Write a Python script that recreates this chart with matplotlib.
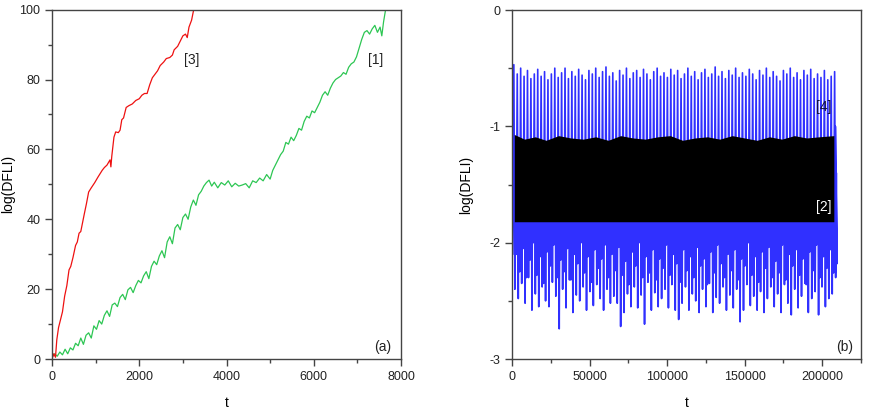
#!/bin/python3
# -*- coding: utf-8 -*-

import numpy as np
import matplotlib
matplotlib.use('Agg')
import matplotlib.pyplot as plt
from matplotlib.ticker import MultipleLocator

plt.rcParams['font.family'] = ['Liberation Sans', 'DejaVu Sans']
plt.rcParams['axes.unicode_minus'] = False

# panel (a): orbit [3] (red) and orbit [1] (green)
t3 = [0, 40, 80, 110, 150, 200, 240, 290, 340, 390, 430, 480, 540, 580, 620,
      660, 700, 740, 790, 840, 900, 980, 1050, 1100, 1150, 1200, 1260, 1330,
      1350, 1370, 1420, 1460, 1520, 1560, 1600, 1640, 1700, 1760, 1840, 1920,
      2000, 2060, 2120, 2180, 2240, 2300, 2360, 2420, 2480, 2560, 2620, 2700,
      2760, 2800, 2880, 2940, 3000, 3060, 3100, 3140, 3200, 3240]
dfli3 = [0, 1.5, 0.5, 5.5, 9, 11.5, 13.5, 18, 21, 25.5, 26.5, 29, 32.5, 33.5,
         36, 36.5, 39, 41.5, 44.5, 47.8, 49, 50.5, 52, 53, 54, 54.8, 55.5, 57,
         55, 58, 63.5, 65, 64.8, 65.5, 68.5, 69, 72, 72.5, 73, 74, 74.5, 75.5,
         76, 76, 78.5, 80.5, 81.5, 82.5, 84, 85, 86, 86.3, 87, 88.5, 89.5, 91,
         92.5, 93, 92, 95, 97, 99.5]

t1 = [0, 60, 120, 180, 240, 300, 360, 420, 480, 540, 600, 660, 720, 780, 840,
      900, 960, 1020, 1080, 1140, 1200, 1260, 1320, 1380, 1440, 1500, 1560,
      1620, 1680, 1740, 1800, 1860, 1920, 1980, 2040, 2100, 2160, 2220, 2280,
      2340, 2400, 2460, 2520, 2580, 2640, 2700, 2760, 2820, 2880, 2940, 3000,
      3060, 3120, 3180, 3240, 3300, 3360, 3420, 3480, 3540, 3600, 3660, 3720,
      3800, 3880, 3960, 4040, 4120, 4200, 4280, 4360, 4440, 4520, 4600, 4680,
      4760, 4840, 4920, 5000, 5060, 5120, 5180, 5240, 5300, 5360, 5420, 5480,
      5540, 5600, 5660, 5720, 5780, 5840, 5900, 5960, 6020, 6080, 6140, 6200,
      6260, 6320, 6380, 6440, 6500, 6560, 6620, 6680, 6740, 6800, 6860, 6920,
      6980, 7040, 7100, 7160, 7220, 7280, 7340, 7400, 7460, 7520, 7560, 7600,
      7640]
dfli1 = [0.5, 1.5, 0.8, 2.0, 1.2, 2.8, 1.5, 3.2, 2.6, 4.5, 3.8, 6.0, 4.2, 6.8,
         7.5, 6.0, 9.5, 8.5, 11.0, 10.0, 12.5, 13.8, 12.2, 15.5, 16.0, 15.0,
         17.6, 18.5, 17.0, 19.8, 20.5, 19.0, 21.0, 22.5, 21.8, 23.8, 25.0, 23.0,
         26.5, 28.0, 27.0, 29.5, 31.0, 29.0, 33.5, 35.0, 33.0, 37.5, 38.5, 37.0,
         40.5, 41.5, 40.0, 43.5, 45.5, 44.0, 47.0, 48.0, 49.5, 50.5, 51.2, 49.5,
         50.6, 49.0, 50.5, 49.8, 51.0, 49.3, 50.3, 49.5, 49.8, 50.2, 49.0, 51.0,
         50.5, 51.8, 51.0, 52.8, 51.5, 54.0, 55.5, 57.0, 58.5, 59.5, 62.0, 61.5,
         63.5, 62.5, 64.0, 66.0, 65.5, 68.0, 69.5, 69.0, 71.0, 70.5, 72.0, 73.5,
         75.5, 76.5, 75.5, 77.5, 79.0, 80.0, 80.5, 81.0, 82.0, 81.5, 83.5, 84.5,
         85.0, 86.5, 89.0, 91.5, 93.5, 94.0, 93.0, 94.5, 95.5, 93.5, 95.0, 92.5,
         96.5, 99.5]

# panel (b): orbit [4] (blue), one upper and two lower spikes per period
spike_t0 = 1200
spike_dt = 2200
peak4 = [-0.47, -0.55, -0.50, -0.57, -0.52, -0.59, -0.55, -0.51, -0.57, -0.53,
         -0.60, -0.55, -0.50, -0.58, -0.54, -0.50, -0.59, -0.53, -0.57, -0.51,
         -0.56, -0.60, -0.52, -0.55, -0.50, -0.58, -0.53, -0.49, -0.57, -0.54,
         -0.61, -0.52, -0.56, -0.50, -0.59, -0.54, -0.52, -0.58, -0.51, -0.55,
         -0.60, -0.53, -0.50, -0.57, -0.54, -0.58, -0.51, -0.56, -0.52, -0.59,
         -0.55, -0.50, -0.57, -0.53, -0.60, -0.54, -0.51, -0.58, -0.55, -0.49,
         -0.57, -0.53, -0.59, -0.52, -0.56, -0.50, -0.58, -0.54, -0.57, -0.51,
         -0.55, -0.60, -0.52, -0.56, -0.50, -0.58, -0.53, -0.57, -0.61, -0.52,
         -0.55, -0.50, -0.58, -0.54, -0.60, -0.52, -0.56, -0.51, -0.59, -0.55,
         -0.58, -0.52, -0.60, -0.57, -0.53]
deep4 = [-2.40, -2.48, -2.35, -2.52, -2.30, -2.58, -2.44, -2.55, -2.38, -2.50,
         -2.55, -2.34, -2.46, -2.74, -2.40, -2.56, -2.32, -2.60, -2.45, -2.50,
         -2.38, -2.58, -2.42, -2.54, -2.36, -2.48, -2.58, -2.40, -2.52, -2.46,
         -2.52, -2.72, -2.60, -2.44, -2.55, -2.38, -2.56, -2.45, -2.70, -2.34,
         -2.58, -2.43, -2.55, -2.48, -2.40, -2.56, -2.36, -2.58, -2.66, -2.52,
         -2.38, -2.58, -2.44, -2.50, -2.60, -2.40, -2.55, -2.35, -2.60, -2.47,
         -2.52, -2.38, -2.58, -2.45, -2.56, -2.40, -2.68, -2.58, -2.36, -2.54,
         -2.46, -2.58, -2.42, -2.60, -2.48, -2.38, -2.55, -2.44, -2.60, -2.36,
         -2.52, -2.62, -2.40, -2.56, -2.46, -2.35, -2.60, -2.48, -2.42, -2.62,
         -2.38, -2.55, -2.48, -2.44, -2.30]
shallow4 = [-2.10, -2.25, -2.05, -2.30, -2.15, -2.00, -2.28, -2.12, -2.35, -2.08,
            -2.20, -2.02, -2.30, -2.15, -2.25, -2.05, -2.32, -2.10, -2.18, -2.00,
            -2.26, -2.12, -2.34, -2.06, -2.22, -2.14, -2.02, -2.30, -2.10, -2.24,
            -2.04, -2.28, -2.16, -2.36, -2.08, -2.20, -2.00, -2.30, -2.12, -2.26,
            -2.06, -2.32, -2.14, -2.22, -2.02, -2.28, -2.10, -2.18, -2.34, -2.06,
            -2.24, -2.12, -2.30, -2.04, -2.20, -2.14, -2.36, -2.08, -2.26, -2.02,
            -2.18, -2.30, -2.10, -2.24, -2.06, -2.32, -2.14, -2.20, -2.00, -2.28,
            -2.12, -2.34, -2.08, -2.22, -2.04, -2.30, -2.16, -2.26, -2.02, -2.32,
            -2.10, -2.20, -2.06, -2.28, -2.14, -2.36, -2.08, -2.24, -2.02, -2.30,
            -2.12, -2.22, -2.06, -2.26, -2.18]
start4_t = [0, 500]
start4 = [-0.2, -2.1]
end4_t = [208500, 208800, 209000]
end4 = [-1.0, -2.25, -1.9]

# orbit [2] (black): envelope of the dense oscillation
band2_t = [1500, 8000, 15000, 22000, 30000, 38000, 46000, 54000, 62000, 70000,
           78000, 86000, 94000, 102000, 110000, 118000, 126000, 134000, 142000,
           150000, 158000, 166000, 174000, 182000, 190000, 198000, 207500]
band2_top = [-1.07, -1.11, -1.09, -1.12, -1.08, -1.10, -1.11, -1.09, -1.12,
             -1.08, -1.10, -1.11, -1.09, -1.08, -1.12, -1.10, -1.09, -1.11,
             -1.08, -1.10, -1.12, -1.09, -1.11, -1.08, -1.10, -1.09, -1.08]
band2_bot = [-1.82, -1.82, -1.82, -1.82, -1.82, -1.82, -1.82, -1.82, -1.82,
             -1.82, -1.82, -1.82, -1.82, -1.82, -1.82, -1.82, -1.82, -1.82,
             -1.82, -1.82, -1.82, -1.82, -1.82, -1.82, -1.82, -1.82, -1.82]

# build the blue trace: peak, deep dip, back through the band, shallow dip
blue_t = list(start4_t)
blue_y = list(start4)
for i, (p, d, s) in enumerate(zip(peak4, deep4, shallow4)):
    tc = spike_t0 + i * spike_dt
    blue_t += [tc, tc + 0.3 * spike_dt, tc + 0.5 * spike_dt, tc + 0.7 * spike_dt]
    blue_y += [p, d, -1.4, s]
blue_t += end4_t
blue_y += end4


def style_axes(ax):
    for sp in ax.spines.values():
        sp.set_color('#444444')
        sp.set_linewidth(1.0)
    ax.tick_params(which='major', direction='out', length=5, width=1,
                   color='#444444', labelsize=9, labelcolor='#222222')
    ax.tick_params(which='minor', direction='out', length=3, width=1,
                   color='#444444')


fig = plt.figure(figsize=(8.71, 4.12), dpi=100)
axa = fig.add_axes([0.0597, 0.1286, 0.4007, 0.848])
axb = fig.add_axes([0.5878, 0.1286, 0.4007, 0.8471])

axa.plot(t1, dfli1, color='#2dc653', lw=0.9)
axa.plot(t3, dfli3, color='#ee1111', lw=0.9)
axa.set_xlim(0, 8000)
axa.set_ylim(0, 100)
axa.xaxis.set_major_locator(MultipleLocator(2000))
axa.xaxis.set_minor_locator(MultipleLocator(1000))
axa.yaxis.set_major_locator(MultipleLocator(20))
axa.yaxis.set_minor_locator(MultipleLocator(10))
axa.set_xlabel('t', fontsize=10)
axa.set_ylabel('log(DFLI)', fontsize=10)
axa.xaxis.set_label_coords(0.5, -0.105)
axa.yaxis.set_label_coords(-0.105, 0.5)
axa.text(3200, 85.5, '[3]', fontsize=10, color='#222222', ha='center', va='center')
axa.text(7420, 85.5, '[1]', fontsize=10, color='#222222', ha='center', va='center')
axa.text(7780, 3.5, '(a)', fontsize=10, color='#222222', ha='right', va='center')
style_axes(axa)

axb.plot(blue_t, blue_y, color='#3030ff', lw=1.2, zorder=2)
axb.fill_between(band2_t, band2_bot, band2_top, color='black', lw=0, zorder=3)
axb.set_xlim(0, 225000)
axb.set_ylim(-3, 0)
axb.xaxis.set_major_locator(MultipleLocator(50000))
axb.xaxis.set_minor_locator(MultipleLocator(25000))
axb.yaxis.set_major_locator(MultipleLocator(1))
axb.yaxis.set_minor_locator(MultipleLocator(0.5))
axb.set_xlabel('t', fontsize=10)
axb.set_ylabel('log(DFLI)', fontsize=10)
axb.xaxis.set_label_coords(0.5, -0.105)
axb.yaxis.set_label_coords(-0.112, 0.5)
axb.text(201000, -0.83, '[4]', fontsize=10, color='#101040', ha='center',
         va='center', zorder=4)
axb.text(201000, -1.69, '[2]', fontsize=10, color='white', ha='center',
         va='center', zorder=4)
axb.text(220000, -2.9, '(b)', fontsize=10, color='#222222', ha='right', va='center')
style_axes(axb)

fig.savefig('out.png', dpi=100)
